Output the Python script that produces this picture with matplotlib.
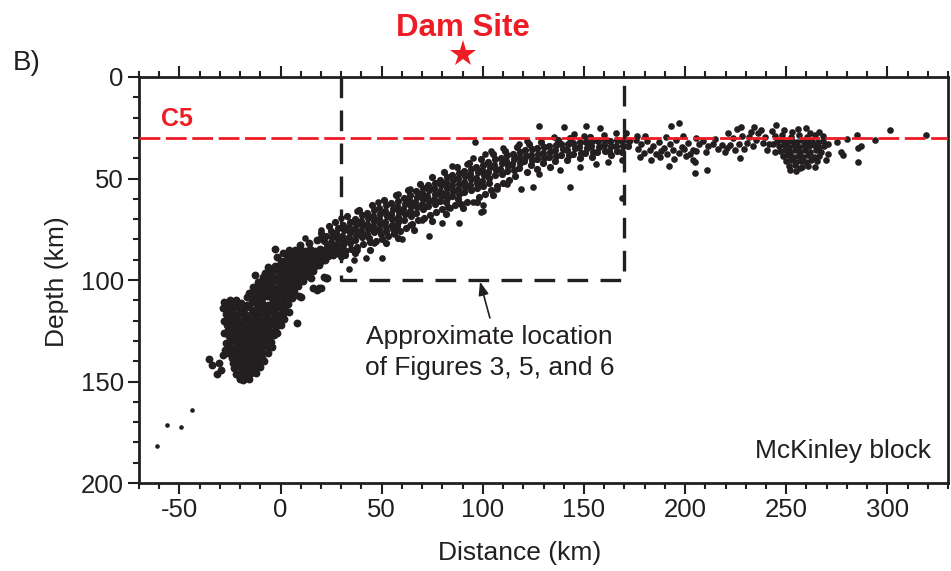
import matplotlib
matplotlib.use('Agg')
import matplotlib.pyplot as plt
from matplotlib.ticker import MultipleLocator

plt.rcParams['font.family'] = ['Liberation Sans', 'DejaVu Sans']
plt.rcParams['axes.unicode_minus'] = False

# ---- data: (distance km, depth km) of earthquakes ----
deep_isolated = [(-61, 181.8), (-56, 171.5), (-49, 172.3), (-44, 163.8)]

slab_blob = [
    (-27, 111.5), (-24.6, 110.8), (-22.1, 111.9), (-19.4, 111.2), (-16.8, 112.3), (-14.2, 111.0), (-11.7, 111.8),
    (-9.0, 111.3), (-6.4, 112.1), (-3.9, 110.7), (-1.2, 111.6), (1.5, 110.9), (3.8, 111.7),
    (-26.0, 113.9), (-23.3, 114.5), (-20.8, 113.6), (-18.1, 114.2), (-15.5, 113.5), (-12.9, 114.6), (-10.4, 113.8),
    (-7.7, 114.3), (-5.1, 113.6), (-2.6, 114.4), (0.2, 113.9), (2.4, 114.8),
    (-27.2, 116.8), (-24.7, 116.2), (-22.0, 117.0), (-19.4, 116.3), (-16.9, 117.1), (-14.3, 116.4), (-11.6, 117.0),
    (-9.1, 116.2), (-6.5, 116.9), (-3.8, 116.3), (-1.4, 117.2), (1.0, 116.6),
    (-26.1, 119.3), (-23.6, 118.8), (-20.9, 119.6), (-18.3, 119.0), (-15.6, 119.7), (-13.0, 118.9), (-10.5, 119.5),
    (-7.8, 119.1), (-5.2, 119.8), (-2.7, 119.0), (-0.4, 119.6),
    (-26.6, 122.1), (-24.0, 121.6), (-21.5, 122.4), (-18.9, 121.8), (-16.3, 122.5), (-13.7, 121.7), (-11.2, 122.3),
    (-8.6, 121.9), (-6.0, 122.6), (-3.5, 121.8), (-1.3, 122.4),
    (-26.0, 124.8), (-23.4, 124.3), (-20.8, 125.0), (-18.2, 124.4), (-15.7, 125.1), (-13.1, 124.5), (-10.6, 125.0),
    (-8.0, 124.3), (-5.5, 124.9), (-2.9, 124.6),
    (-25.6, 127.5), (-23.0, 127.0), (-20.4, 127.7), (-17.9, 127.1), (-15.3, 127.8), (-12.7, 127.2), (-10.1, 127.6),
    (-7.6, 127.0), (-5.0, 127.7), (-3.2, 127.1),
    (-25.1, 130.2), (-22.6, 129.7), (-20.0, 130.4), (-17.4, 129.8), (-14.9, 130.5), (-12.3, 129.9), (-9.8, 130.3),
    (-7.2, 129.8), (-4.8, 130.4),
    (-24.8, 132.9), (-22.2, 132.4), (-19.7, 133.1), (-17.1, 132.5), (-14.5, 133.2), (-12.0, 132.6), (-9.4, 133.0),
    (-6.9, 132.5),
    (-24.4, 135.6), (-21.9, 135.1), (-19.3, 135.8), (-16.7, 135.2), (-14.2, 135.9), (-11.6, 135.3), (-9.1, 135.7),
    (-23.9, 138.2), (-21.4, 137.7), (-18.8, 138.4), (-16.2, 137.8), (-13.7, 138.5), (-11.2, 137.9), (-9.3, 138.6),
    (-23.4, 140.9), (-20.9, 140.4), (-18.3, 141.1), (-15.8, 140.5), (-13.2, 141.2), (-11.0, 140.6),
    (-22.8, 143.5), (-20.3, 143.0), (-17.8, 143.7), (-15.3, 143.1), (-13.0, 143.8),
    (-21.9, 146.2), (-19.4, 145.7), (-17.0, 146.4), (-14.8, 145.9),
    (-20.3, 148.4), (-17.6, 148.1),
    (-28.5, 114.0), (-28.0, 120.0), (-27.8, 126.0), (-27.0, 131.0), (-26.2, 136.0), (-4.0, 133.0), (-6.0, 136.0),
    (-8.0, 140.0), (-10.0, 143.0), (-12.0, 146.0), (-18.5, 149.3), (-15.8, 148.8), (-2.0, 126.0), (0.0, 122.0),
    (1.5, 119.0), (4.0, 116.0), (-25.0, 109.8), (-22.0, 110.0),
    (-35.5, 139.0), (-34.0, 142.0), (-31.6, 146.3), (-29.6, 144.3), (-30.6, 141.0), (-28.6, 137.0), (-27.6, 134.5),
    (-28.1, 110.8), (-20.0, 148.8), (-17.0, 145.3), (-12.8, 139.4), (8.0, 121.0),
]

slab_bend = [
    (-16.5, 108.3), (-14, 108.9), (-11.5, 108.2), (-9, 108.8), (-6.5, 108.1), (-4, 108.7), (-1.5, 108.2), (1, 108.9),
    (3.5, 108.3), (5.5, 108.8),
    (-15.5, 106.2), (-13, 105.6), (-10.5, 106.4), (-8, 105.8), (-5.5, 106.5), (-3, 105.7), (-0.5, 106.3), (2, 105.9),
    (4.5, 106.4), (6.5, 105.8),
    (-13.5, 103.5), (-11, 102.9), (-8.5, 103.7), (-6, 103.1), (-3.5, 103.8), (-1, 103.0), (1.5, 103.6), (4, 103.1),
    (6.5, 103.7), (8.5, 103.2),
    (-11, 100.9), (-8.5, 100.4), (-6, 101.1), (-3.5, 100.5), (-1, 101.2), (1.5, 100.4), (4, 101.0), (6.5, 100.6),
    (9, 101.1), (11, 100.5),
    (-8.5, 98.3), (-6, 97.8), (-3.5, 98.5), (-1, 97.9), (1.5, 98.6), (4, 97.8), (6.5, 98.4), (9, 97.9), (11.5, 98.5),
    (13.5, 98.0),
    (-6, 95.7), (-3.5, 95.2), (-1, 95.9), (1.5, 95.3), (4, 96.0), (6.5, 95.2), (9, 95.8), (11.5, 95.3), (14, 95.9),
    (16, 95.4),
    (-3, 93.1), (-0.5, 92.6), (2, 93.3), (4.5, 92.7), (7, 93.4), (9.5, 92.6), (12, 93.2), (14.5, 92.7), (17, 93.3),
    (19, 92.8),
    (0, 90.5), (2.5, 90.0), (5, 90.7), (7.5, 90.1), (10, 90.8), (12.5, 90.0), (15, 90.6), (17.5, 90.1), (20, 90.7),
    (22, 90.2),
    (3.5, 87.9), (6, 87.4), (8.5, 88.1), (11, 87.5), (13.5, 88.2), (16, 87.4), (18.5, 88.0), (21, 87.5), (23.5, 88.1),
    (26, 87.6),
    (7, 85.3), (9.5, 84.8), (12, 85.5), (14.5, 84.9), (17, 85.6), (19.5, 84.8), (22, 85.4), (24.5, 84.9), (27, 85.5),
    (29.5, 85.0), (32, 85.6),
    (-12.8, 97.5), (-10.4, 101.0), (-7.9, 96.6), (-6.4, 93.6), (-3.0, 84.7), (-2.0, 88.7), (1.0, 86.7), (4.4, 85.2),
    (9.4, 82.8), (14.3, 81.8), (17.8, 80.3), (20.2, 79.3),
    (16, 104), (18, 105), (9, 108), (15, 99), (23, 99), (19, 104), (10, 108.5), (21.7, 98.5), (20, 104),
    (22.7, 99),
]

slab_middle = [
    (22.3, 78.4), (21.6, 81.0), (22.8, 83.2),
    (24.7, 75.9), (25.4, 78.6), (24.9, 81.3), (25.6, 83.7),
    (28.2, 74.3), (27.6, 77.0), (28.5, 79.6), (27.9, 82.2), (28.4, 84.3),
    (30.8, 72.9), (31.5, 75.4), (30.6, 78.1), (31.3, 80.6), (30.9, 83.0),
    (34.3, 71.2), (33.7, 73.9), (34.5, 76.5), (33.9, 79.0), (34.4, 81.6),
    (36.8, 69.8), (37.4, 72.4), (36.6, 75.0), (37.3, 77.7), (36.9, 80.3),
    (40.2, 68.1), (39.6, 70.8), (40.5, 73.4), (39.8, 76.0), (40.3, 78.7),
    (42.8, 66.9), (43.4, 69.5), (42.6, 72.2), (43.3, 74.8), (42.9, 77.4), (43.5, 79.2),
    (46.2, 65.7), (45.7, 68.3), (46.4, 71.0), (45.8, 73.6), (46.3, 76.2),
    (48.8, 64.6), (49.4, 67.3), (48.6, 69.9), (49.3, 72.6), (48.9, 75.1), (49.5, 77.4),
    (52.3, 63.3), (51.7, 65.9), (52.5, 68.6), (51.8, 71.2), (52.2, 73.8), (51.9, 75.9),
    (54.8, 62.2), (55.4, 64.8), (54.6, 67.5), (55.3, 70.1), (54.9, 72.7), (55.5, 74.8),
    (58.2, 61.0), (57.7, 63.6), (58.4, 66.3), (57.9, 68.9), (58.3, 71.5), (57.6, 73.4),
    (60.8, 59.8), (61.4, 62.4), (60.6, 65.1), (61.3, 67.7), (60.9, 70.3),
    (64.2, 58.1), (63.6, 60.7), (64.5, 63.4), (63.8, 66.0), (64.3, 68.6),
    (66.8, 56.3), (67.4, 58.9), (66.6, 61.5), (67.3, 64.2), (66.9, 66.8),
    (70.2, 54.7), (69.7, 57.3), (70.4, 60.0), (69.8, 62.6), (70.3, 65.2),
    (72.8, 53.2), (73.4, 55.8), (72.6, 58.5), (73.3, 61.1), (72.9, 63.7),
    (76.2, 52.1), (75.7, 54.7), (76.4, 57.4), (75.8, 60.0), (76.3, 62.6),
    (78.8, 50.8), (79.4, 53.4), (78.6, 56.1), (79.3, 58.7), (78.9, 61.3),
    (82.2, 49.2), (81.7, 51.8), (82.4, 54.5), (81.8, 57.1), (82.3, 59.7), (81.9, 61.8),
    (84.8, 48.1), (85.4, 50.7), (84.6, 53.4), (85.3, 56.0), (84.9, 58.6),
    (88.2, 47.2), (87.7, 49.8), (88.4, 52.5), (87.8, 55.1), (88.3, 57.7), (87.9, 59.9),
    (90.8, 46.3), (91.4, 48.9), (90.6, 51.6), (91.3, 54.2), (90.9, 56.8),
    (94.2, 45.1), (93.7, 47.7), (94.4, 50.4), (93.8, 53.0), (94.3, 55.6),
    (96.8, 44.3), (97.4, 46.9), (96.6, 49.6), (97.3, 52.2), (96.9, 54.8),
    (100.2, 43.2), (99.7, 45.8), (100.4, 48.5), (99.8, 51.1), (100.3, 53.7),
]

slab_fringe = [
    (26, 86.5), (29, 87), (32, 87.8), (35, 84.5), (38, 83.5), (41, 82.5), (44, 81.5), (47, 80.8), (50, 80),
    (53, 78.5), (56, 77), (59, 76), (62, 74.5), (65, 72.5), (68, 70.5), (71, 69.5), (74, 68), (77, 66.5), (80, 65),
    (83, 64), (86, 63), (89, 62.5), (92, 61.5), (98, 59), (101, 57.5), (104, 55.5), (107, 53.5), (110, 52),
    (113, 50.5), (116, 49), (122, 47), (127, 45.5), (133, 44.5), (37, 86.5), (44, 85), (52, 82), (58, 79.5),
    (66, 75.5), (75, 71), (82, 67.5), (90, 64.5), (97, 61.5), (105, 58),
    (20, 77), (24, 73.5), (27, 71.5), (33, 68.5), (39, 65.5), (45, 63), (51, 60.5), (57, 58), (63, 55.5),
    (69, 52.5), (75, 49.5), (81, 47), (87, 44.5), (93, 42.5), (99, 40.5), (105, 38), (111, 36.3), (117, 34.5),
    (123, 33), (129, 32), (137, 30.8), (143, 30.2), (153, 29.5),
]

slab_upper = [
    (102.8, 41.7), (103.4, 44.3), (102.6, 47.0), (103.3, 49.6), (102.9, 52.2),
    (106.2, 40.6), (105.7, 43.2), (106.4, 45.9), (105.8, 48.5),
    (108.8, 39.8), (109.4, 42.4), (108.6, 45.1), (109.3, 47.7),
    (112.2, 38.6), (111.7, 41.2), (112.4, 43.9), (111.8, 46.5),
    (114.8, 37.7), (115.4, 40.3), (114.6, 43.0), (115.3, 45.6),
    (118.2, 37.0), (117.7, 39.6), (118.4, 42.3), (117.8, 44.9),
    (120.8, 36.2), (121.4, 38.8), (120.6, 41.5),
    (124.2, 35.6), (123.7, 38.2), (124.4, 40.9), (123.8, 43.5),
    (126.8, 35.1), (127.4, 37.7), (126.6, 40.4),
    (130.2, 34.6), (129.7, 37.2), (130.4, 39.9), (129.8, 42.3),
    (132.8, 34.2), (133.4, 36.8), (132.6, 39.5),
    (136.2, 33.6), (135.7, 36.2), (136.4, 38.9), (135.8, 41.2),
    (138.8, 33.1), (139.4, 35.7), (138.6, 38.4),
    (142.2, 33.2), (141.7, 35.8), (142.4, 38.5), (141.8, 40.8),
    (144.8, 32.6), (145.4, 35.2), (144.6, 37.9),
    (148.2, 32.1), (147.7, 34.7), (148.4, 37.4), (147.8, 39.8),
    (150.8, 32.2), (151.4, 34.8), (150.6, 37.5),
    (154.2, 31.6), (153.7, 34.2), (154.4, 36.9), (153.8, 39.3),
    (156.8, 31.7), (157.4, 34.3), (156.6, 37.0),
    (160.2, 31.1), (159.7, 33.7), (160.4, 36.4),
    (162.8, 31.3), (163.4, 33.9), (162.6, 36.6), (163.3, 38.6),
    (166.2, 31.2), (165.7, 33.8), (166.4, 36.5),
    (168.8, 31.4), (169.4, 34.0), (168.6, 36.7),
    (172.2, 31.5), (171.7, 34.1),
]

slab_scatter = [
    (96, 32), (128, 24), (140, 24.5), (151, 24), (158, 25), (171, 27.5), (85, 44), (92, 43), (95, 40), (110, 35),
    (118, 33), (101, 38), (104, 36.5), (122, 31.5), (135, 29.5), (145, 28), (150, 29), (160, 28.5), (166, 27.8),
    (176, 29), (64, 55), (58, 57.5), (48, 61.5), (38, 66), (30, 69.5), (20, 75.5), (12, 79.5),
    (119, 55), (125, 54), (143, 54), (169, 59.6), (169, 41), (100, 66), (100, 63), (73.5, 78.5), (80, 72), (88, 72),
    (99, 66.5), (60, 80), (50, 89), (42, 89), (36.5, 90), (34, 94.6), (128, 48), (112, 52.5), (107, 55),
    (138, 46), (148, 44.5), (156, 43), (162, 42), (95, 61.5), (84, 64.5), (70, 70.5), (64, 73), (56, 77.5),
    (46, 82), (38, 85), (30, 88.5),
]

flat_zone = [
    (175.5, 30.8), (178.4, 33.2), (181.2, 31.5), (184.1, 34.0), (186.9, 32.1), (189.8, 35.2), (192.6, 33.0),
    (195.5, 31.2), (198.3, 34.6), (201.2, 32.4), (204.0, 35.8), (206.9, 33.1),
    (176.8, 35.6), (179.7, 37.4), (182.5, 35.9), (185.4, 37.8), (188.2, 36.3), (191.1, 38.1), (193.9, 36.0),
    (196.8, 37.6), (199.6, 35.7), (202.5, 37.9), (205.3, 36.4),
    (177.5, 39.5), (183.0, 40.8), (187.6, 39.2), (194.5, 40.5), (200.3, 39.0), (203.8, 41.0),
    (180.0, 29.3), (190.5, 29.8), (199.0, 29.1), (205.5, 30.0),
    (209.0, 31.5), (211.5, 34.2), (213.8, 32.8), (216.2, 35.5), (218.5, 33.6), (210.2, 36.8), (215.0, 30.5),
    (219.8, 37.0),
    (221.0, 27.5), (223.5, 30.2), (225.8, 25.6), (228.1, 29.0), (230.4, 32.6), (232.7, 27.2), (235.0, 30.8),
    (237.3, 26.0), (239.6, 29.5), (241.5, 33.0), (222.2, 33.5), (224.6, 36.0), (226.9, 33.0), (229.2, 35.5),
    (231.5, 29.5), (233.8, 34.2), (236.1, 27.8), (238.4, 32.5), (240.7, 36.2), (227.5, 24.8), (234.2, 24.6),
    (220.5, 35.2),
    (192, 44), (205, 42), (205, 47.3), (210.8, 45.8), (227, 40), (193, 24), (197, 22.7), (245, 23.6),
]

cluster_260 = [
    (244.3, 29.2), (248.1, 28.6), (252.4, 29.5), (256.2, 28.8), (260.5, 29.4), (264.3, 28.7), (268.2, 29.3),
    (245.5, 31.6), (248.0, 31.2), (250.5, 31.9), (253.0, 31.3), (255.5, 31.8), (258.0, 31.2), (260.5, 31.7),
    (263.0, 31.3), (265.5, 31.8), (268.0, 31.4),
    (246.2, 34.1), (248.7, 33.6), (251.2, 34.3), (253.7, 33.7), (256.2, 34.4), (258.7, 33.6), (261.2, 34.2),
    (263.7, 33.7), (266.2, 34.3), (268.7, 33.8),
    (247.0, 36.6), (249.5, 36.1), (252.0, 36.8), (254.5, 36.2), (257.0, 36.9), (259.5, 36.1), (262.0, 36.7),
    (264.5, 36.2), (267.0, 36.8),
    (248.5, 39.1), (251.0, 38.6), (253.5, 39.3), (256.0, 38.7), (258.5, 39.4), (261.0, 38.6), (263.5, 39.2),
    (266.0, 38.7),
    (250.0, 41.6), (252.5, 41.1), (255.0, 41.8), (257.5, 41.2), (260.0, 41.7), (262.5, 41.1), (265.0, 41.6),
    (251.5, 44.0), (254.5, 43.5), (258.0, 44.2), (261.0, 43.6), (264.0, 44.1),
    (252.0, 45.8), (255.0, 46.2), (257.0, 44.9), (243.5, 33.0), (244.5, 37.0), (243.0, 26.5), (249.0, 26.0),
    (253.0, 27.2), (262.0, 27.8), (266.0, 27.0), (270.5, 33.0), (270.5, 38.0), (269.5, 41.0),
    (255.7, 25.5), (260.0, 25.0),
]

far_east = [
    (275, 32), (277, 37), (278, 38.4), (280, 30.5), (285, 28.6), (285.3, 35), (285.3, 42), (287, 34), (294, 31),
    (301.5, 26), (319, 28.5),
]

x_ticks = [-50, 0, 50, 100, 150, 200, 250, 300]
y_ticks = [0, 50, 100, 150, 200]
c5_depth = 30
box_x = [30, 170]
box_depth = [0, 100]
dam_site_x = 90.4

RED = '#ee1c25'
DOT = '#231f20'

fig = plt.figure(figsize=(9.51, 5.71), dpi=100)
ax = fig.add_axes([139 / 951, 1 - 483 / 571, 809 / 951, 406 / 571])

ax.scatter([p[0] for p in deep_isolated], [p[1] for p in deep_isolated], s=11, c=DOT, linewidths=0, zorder=3)
ax.scatter([p[0] for p in slab_blob + slab_bend], [p[1] for p in slab_blob + slab_bend],
           s=32, c=DOT, linewidths=0, zorder=3)
ax.scatter([p[0] for p in slab_middle + slab_fringe + slab_upper],
           [p[1] for p in slab_middle + slab_fringe + slab_upper], s=27, c=DOT, linewidths=0, zorder=3)
groups = [slab_scatter, flat_zone, cluster_260, far_east]
for g in groups:
    ax.scatter([p[0] for p in g], [p[1] for p in g], s=23, c=DOT, linewidths=0, zorder=3)

ax.set_xlim(-70, 330)
ax.set_ylim(200, 0)
ax.set_xticks(x_ticks)
ax.set_yticks(y_ticks)
ax.xaxis.set_minor_locator(MultipleLocator(10))
ax.yaxis.set_minor_locator(MultipleLocator(10))
ax.tick_params(which='both', direction='out', top=True, bottom=True, left=True, right=False,
               width=1.5, color=DOT, labelcolor=DOT, labelsize=18.5)
ax.tick_params(which='major', length=8, pad=3)
ax.tick_params(which='minor', length=4)
for sp in ax.spines.values():
    sp.set_linewidth(2.0)
    sp.set_color(DOT)

# C5 line
ax.axhline(c5_depth, color=RED, lw=2.0, dashes=(7.5, 2.0), zorder=4)
ax.text(-59.1, 24.1, 'C5', color=RED, fontsize=18, fontweight='bold', ha='left', va='baseline')

# dashed box
ax.plot([box_x[0], box_x[0], box_x[1], box_x[1]], [box_depth[0], box_depth[1], box_depth[1], box_depth[0]],
        color=DOT, lw=2.4, dashes=(6.2, 3.7), zorder=4, clip_on=False)

# arrow and annotation
ax.annotate('', xy=(98.6, 100.8), xytext=(103.5, 118.7),
            arrowprops=dict(arrowstyle='-|>,head_length=0.8,head_width=0.3', color=DOT, lw=1.2, shrinkA=0, shrinkB=0))
ax.text(103.4, 131.5, 'Approximate location', ha='center', va='baseline', fontsize=19, color=DOT)
ax.text(103.4, 146.8, 'of Figures 3, 5, and 6', ha='center', va='baseline', fontsize=19, color=DOT)
ax.text(321.5, 187.5, 'McKinley block', ha='right', va='baseline', fontsize=19, color=DOT)

# dam site
ax.plot([dam_site_x], [-11.1], marker='*', ms=20, color=RED, clip_on=False, zorder=5, markeredgewidth=0)
ax.text(dam_site_x, -20.2, 'Dam Site', ha='center', va='baseline', fontsize=22.5, fontweight='bold',
        color=RED, clip_on=False)

fig.text(520 / 951, 1 - 560 / 571, 'Distance (km)', ha='center', va='baseline', fontsize=19, color=DOT)
fig.text(57 / 951, 1 - 282 / 571, 'Depth (km)', ha='center', va='center', rotation=90, fontsize=19, color=DOT)
fig.text(13 / 951, 1 - 70 / 571, 'B)', ha='left', va='baseline', fontsize=20, color=DOT)

fig.savefig('out.png', dpi=100)
